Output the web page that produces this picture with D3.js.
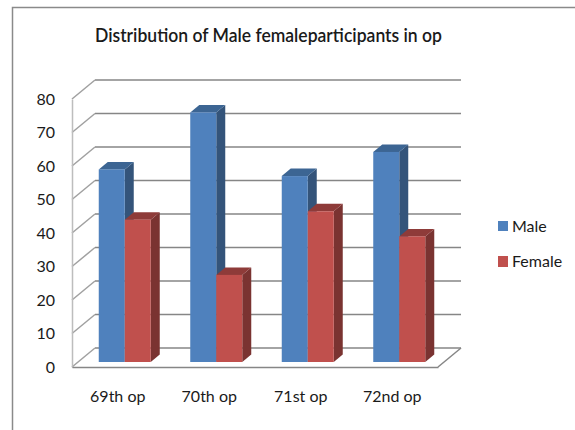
<!DOCTYPE html>
<html>
<head>
<meta charset="utf-8">
<script src="https://cdn.jsdelivr.net/npm/d3@7"></script>
<style>
  html, body { margin: 0; padding: 0; background: #fff; }
  svg { display: block; }
  text { font-family: Lato, "Open Sans", sans-serif; fill: #1a1a1a; }
</style>
</head>
<body>
<svg id="chart" width="575" height="430"></svg>
<script>
//
// Data
//
var categories = ['69th op', '70th op', '71st op', '72nd op']
var seriesNames = ['Male', 'Female']
var male = [57.5, 74.5, 55.5, 62.7]
var female = [42.5, 26, 45, 37.5]
var yTicks = [0, 10, 20, 30, 40, 50, 60, 70, 80]

//
// Configuration
//
var colors = {
  Male: { front: '#4f81bd', side: '#34547a', top: '#3c6593' },
  Female: { front: '#c0504d', side: '#7a3331', top: '#8e3b39' }
}
var colorGrid = '#868686'
var colorSide = '#a0a0a0'
var colorWall = '#bdbdbd'
// shift of the back wall from the front plane
var wallDx = 23, wallDy = -19
// shift of the bars from the front plane, and depth of a bar
var barDx = 7, barDy = -5
var depthDx = 9, depthDy = -7.5

var svg = d3.select('#chart')

// frame of the picture
svg.append('path')
  .attr('d', d3.line()([[12.5, 430], [12.5, 7.5], [575, 7.5]]))
  .attr('fill', 'none')
  .attr('stroke', '#8a8a8a')
  .attr('stroke-width', 1.5)

svg.append('text')
  .attr('x', 95)
  .attr('y', 42)
  .attr('font-size', 20)
  .attr('font-weight', 600)
  .attr('textLength', 347)
  .attr('lengthAdjust', 'spacingAndGlyphs')
  .text('Distribution of Male femaleparticipants in op')

//
// Scales
//
var y = d3.scaleLinear().domain([0, 80]).range([367, 99])
var x = d3.scaleBand().domain(categories).range([72, 438])
var inner = d3.scaleBand().domain(seriesNames).range([0, 52])

//
// Walls and floor
//
var grid = svg.append('g').attr('fill', 'none').attr('stroke-width', 1.5)

grid.selectAll('.back')
  .data(yTicks)
  .enter()
  .append('line')
  .attr('class', 'back')
  .attr('x1', 72 + wallDx)
  .attr('x2', 438 + wallDx)
  .attr('y1', (d) => y(d) + wallDy)
  .attr('y2', (d) => y(d) + wallDy)
  .attr('stroke', colorGrid)

grid.selectAll('.side')
  .data(yTicks)
  .enter()
  .append('line')
  .attr('class', 'side')
  .attr('x1', 72)
  .attr('x2', 72 + wallDx)
  .attr('y1', (d) => y(d))
  .attr('y2', (d) => y(d) + wallDy)
  .attr('stroke', colorSide)

// right edge of the floor
grid.append('line')
  .attr('x1', 438)
  .attr('x2', 438 + wallDx)
  .attr('y1', y(0))
  .attr('y2', y(0) + wallDy)
  .attr('stroke', colorGrid)

//
// Bars
//
function drawBars(name, values) {
  var c = colors[name]
  var g = svg.append('g').selectAll('g')
    .data(values)
    .enter()
    .append('g')
    .attr('transform', (d, i) => {
      // centre the pair of bars on the band
      var left = x(categories[i]) + (x.bandwidth() - 52) / 2 + barDx + inner(name)
      return `translate(${left}, ${barDy})`
    })

  var w = inner.bandwidth()

  g.append('path')
    .attr('fill', c.side)
    .attr('d', (d) => d3.line()([
      [w, y(d)], [w + depthDx, y(d) + depthDy],
      [w + depthDx, y(0) + depthDy], [w, y(0)]
    ]))

  g.append('path')
    .attr('fill', c.top)
    .attr('d', (d) => d3.line()([
      [0, y(d)], [depthDx, y(d) + depthDy],
      [w + depthDx, y(d) + depthDy], [w, y(d)]
    ]))

  g.append('rect')
    .attr('fill', c.front)
    .attr('x', 0)
    .attr('y', (d) => y(d))
    .attr('width', w)
    .attr('height', (d) => y(0) - y(d))
}

drawBars('Male', male)
drawBars('Female', female)

//
// Axes
//
var yAxis = svg.append('g')
  .attr('transform', 'translate(72, 0)')
  .call(d3.axisLeft(y).tickValues(yTicks).tickSize(0).tickPadding(17))
yAxis.select('.domain').attr('stroke', colorWall).attr('stroke-width', 1.5)
yAxis.selectAll('text').attr('font-size', 16)
yAxis.attr('font-family', null)

var xAxis = svg.append('g')
  .attr('transform', `translate(0, ${y(0)})`)
  .call(d3.axisBottom(x).tickSize(0).tickPadding(24))
xAxis.select('.domain').attr('stroke', colorGrid).attr('stroke-width', 1.5)
xAxis.selectAll('text').attr('font-size', 16)
xAxis.attr('font-family', null)

//
// Legend
//
var legend = svg.append('g').selectAll('g')
  .data(seriesNames)
  .enter()
  .append('g')
  .attr('transform', (d, i) => `translate(498, ${221 + i * 35})`)

legend.append('rect')
  .attr('width', 10)
  .attr('height', (d, i) => i ? 11 : 10)
  .attr('fill', (d) => colors[d].front)

legend.append('text')
  .attr('x', 14)
  .attr('y', 5)
  .attr('dy', '0.35em')
  .attr('font-size', 16)
  .text((d) => d)
</script>
</body>
</html>
